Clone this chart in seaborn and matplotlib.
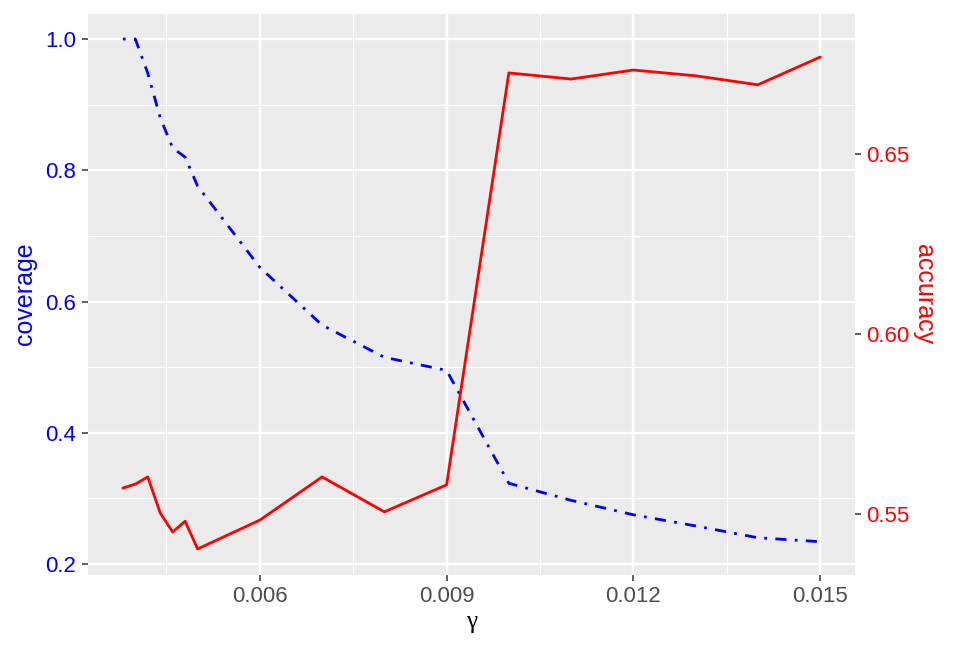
import matplotlib
matplotlib.use("Agg")
import matplotlib.pyplot as plt
from matplotlib.ticker import FixedLocator
import seaborn as sns
import pandas as pd

gamma = [0.0038, 0.0040, 0.0042, 0.0044, 0.0046, 0.0048, 0.0050, 0.006, 0.007,
         0.008, 0.009, 0.010, 0.011, 0.012, 0.013, 0.014, 0.015]
coverage = [1.0, 1.0, 0.948, 0.880, 0.834, 0.820, 0.776, 0.652, 0.564,
            0.515, 0.495, 0.323, 0.297, 0.275, 0.258, 0.240, 0.234]
accuracy = [0.5572, 0.5583, 0.5603, 0.5503, 0.5450, 0.5480, 0.5403, 0.5483, 0.5603,
            0.5506, 0.5581, 0.6725, 0.6708, 0.6733, 0.6717, 0.6692, 0.6769]

x_ticks = [0.006, 0.009, 0.012, 0.015]
x_ticklabels = ["0.006", "0.009", "0.012", "0.015"]
cov_ticks = [0.2, 0.4, 0.6, 0.8, 1.0]
cov_ticklabels = ["0.2", "0.4", "0.6", "0.8", "1.0"]
acc_ticks = [0.55, 0.60, 0.65]
acc_ticklabels = ["0.55", "0.60", "0.65"]

df = pd.DataFrame({"gamma": gamma, "coverage": coverage, "accuracy": accuracy})

sns.set_theme(style="white")
plt.rcParams["font.family"] = ["Liberation Sans", "DejaVu Sans"]

fig = plt.figure(figsize=(9.59, 6.54), dpi=100)
ax = fig.add_axes([88 / 959, 1 - 574.5 / 654, (855 - 88) / 959, (574.5 - 13.5) / 654])
ax.set_facecolor("#EBEBEB")
ax2 = ax.twinx()
ax2.patch.set_visible(False)

sns.lineplot(data=df, x="gamma", y="coverage", ax=ax, color="#0000FF", lw=2.0,
             linestyle=(0, (1, 3, 4, 3)))
sns.lineplot(data=df, x="gamma", y="accuracy", ax=ax2, color="#FF0000", lw=2.0)

ax.set_xlim(0.00324, 0.01556)
ax.set_ylim(0.1840, 1.0389)
ax2.set_ylim(0.5332, 0.6890)

ax.xaxis.set_major_locator(FixedLocator(x_ticks))
ax.set_xticklabels(x_ticklabels)
ax.xaxis.set_minor_locator(FixedLocator([0.0045, 0.0075, 0.0105, 0.0135]))
ax.yaxis.set_major_locator(FixedLocator(cov_ticks))
ax.set_yticklabels(cov_ticklabels)
ax.yaxis.set_minor_locator(FixedLocator([0.3, 0.5, 0.7, 0.9]))
ax2.yaxis.set_major_locator(FixedLocator(acc_ticks))
ax2.set_yticklabels(acc_ticklabels)

ax.grid(which="major", color="white", lw=1.7)
ax.grid(which="minor", color="white", lw=0.85)
ax.set_axisbelow(True)

for a in (ax, ax2):
    for s in a.spines.values():
        s.set_visible(False)

ax.tick_params(axis="both", which="major", length=4.5, width=1.1, color="#333333",
               labelsize=16, pad=4)
ax.tick_params(axis="both", which="minor", length=0)
ax.tick_params(axis="x", labelcolor="#4D4D4D", bottom=True, pad=3.5)
ax.tick_params(axis="y", labelcolor="#0000FF", left=True)
ax2.tick_params(axis="y", which="major", length=4.5, width=1.1, color="#333333",
                labelsize=16, pad=3.5, labelcolor="#FF0000", right=True)

ax.set_xlabel("γ", fontsize=18, color="black", family=["Liberation Serif", "DejaVu Serif"],
              labelpad=3)
ax.set_ylabel("coverage", fontsize=18, color="#0000FF", labelpad=6)
ax2.set_ylabel("accuracy", fontsize=18, color="#FF0000", rotation=-90,
               va="bottom", labelpad=2)

fig.savefig("out.png", dpi=100)
